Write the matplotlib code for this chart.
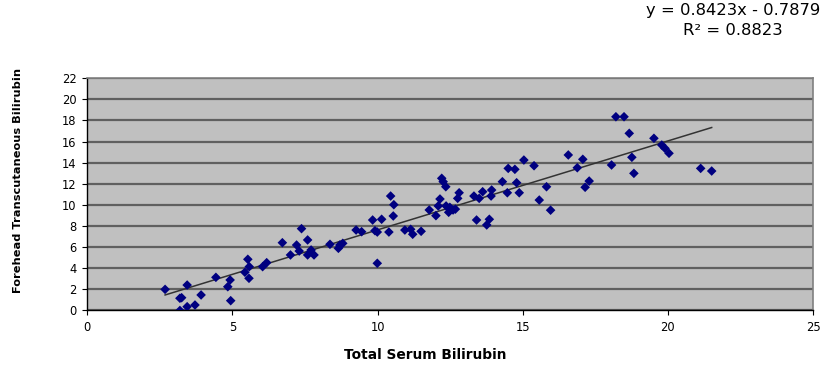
import matplotlib
matplotlib.use("Agg")
import matplotlib.pyplot as plt
import numpy as np

plt.rcParams['font.family'] = ['DejaVu Sans']

total_serum = [2.68, 3.19, 3.25, 3.19, 3.44, 3.44, 3.71, 3.92, 4.43, 4.92, 4.84, 4.94,
               5.43, 5.53, 5.58, 5.57, 6.04, 6.18, 6.72, 7.0, 7.21, 7.3, 7.38, 7.59,
               7.59, 7.71, 7.81, 8.36, 8.65, 8.7, 8.8, 9.26, 9.45, 9.83, 9.91, 9.99,
               10.14, 9.99, 10.39, 10.45, 10.56, 10.54, 10.94, 11.14, 11.21, 11.5, 11.78, 12.01,
               12.09, 12.15, 12.21, 12.26, 12.35, 12.36, 12.45, 12.49, 12.6, 12.68, 12.76, 12.81,
               13.32, 13.5, 13.41, 13.85, 13.76, 13.62, 13.93, 13.91, 14.3, 14.47, 14.5, 14.73,
               14.79, 14.88, 15.04, 15.39, 15.57, 15.82, 15.96, 16.57, 16.88, 17.07, 17.15, 17.29,
               18.06, 18.21, 18.49, 18.67, 18.76, 18.83, 19.52, 19.79, 19.9, 20.04, 21.13, 21.51]
forehead_tcb = [2.0, 1.16, 1.21, 0.0, 2.41, 0.36, 0.52, 1.47, 3.14, 2.89, 2.25, 0.93,
                3.62, 4.85, 4.15, 3.05, 4.15, 4.53, 6.42, 5.26, 6.2, 5.63, 7.75, 6.68,
                5.26, 5.73, 5.26, 6.27, 5.89, 6.2, 6.36, 7.62, 7.46, 8.57, 7.56, 7.43,
                8.64, 4.47, 7.43, 10.84, 10.02, 8.95, 7.62, 7.69, 7.22, 7.5, 9.52, 8.98,
                9.9, 10.56, 12.52, 12.2, 11.72, 9.9, 9.3, 9.77, 9.52, 9.6, 10.62, 11.15,
                10.84, 10.62, 8.57, 8.64, 8.1, 11.25, 11.41, 10.84, 12.2, 11.15, 13.46, 13.37,
                12.1, 11.15, 14.25, 13.71, 10.46, 11.72, 9.5, 14.73, 13.52, 14.32, 11.67, 12.26,
                13.78, 18.35, 18.35, 16.78, 14.51, 12.99, 16.31, 15.67, 15.36, 14.89, 13.46, 13.21]

slope = 0.8423
intercept = -0.7879
r_squared = 0.8823

x_ticks = [0, 5, 10, 15, 20, 25]
y_ticks = [0, 2, 4, 6, 8, 10, 12, 14, 16, 18, 20, 22]

fig = plt.figure(figsize=(8.29, 3.73), dpi=100)
ax = fig.add_axes([0.1053, 0.1676, 0.8754, 0.6227])
ax.set_facecolor('#C0C0C0')

ax.set_xlim(0, 25)
ax.set_ylim(0, 22)
ax.set_xticks(x_ticks)
ax.set_yticks(y_ticks)
ax.yaxis.grid(True, color='#606060', linewidth=1.6)
ax.set_axisbelow(True)

x = np.array(total_serum)
xs = np.array([x.min(), x.max()])
ax.plot(xs, slope * xs + intercept, color='#333333', linewidth=1.1, zorder=2)
ax.scatter(total_serum, forehead_tcb, marker='D', s=24, color='#000080',
           edgecolors='none', zorder=3)

for side in ['top', 'right']:
    ax.spines[side].set_color('#808080')
    ax.spines[side].set_linewidth(1.2)
for side in ['left', 'bottom']:
    ax.spines[side].set_color('#000000')
    ax.spines[side].set_linewidth(1.0)

ax.tick_params(axis='both', direction='out', length=3.8, width=0.8, labelsize=8.3,
               colors='black')
ax.tick_params(axis='y', pad=4)
ax.tick_params(axis='x', pad=3.5)

ax.set_xlabel('Total Serum Bilirubin', fontsize=9.9, fontweight='bold')
ax.set_ylabel('Forehead Transcutaneous Bilirubin', fontsize=8.2, fontweight='bold')
ax.xaxis.set_label_coords(0.466, -0.163)
ax.yaxis.set_label_coords(-0.088, 0.562)

sign = '-' if intercept < 0 else '+'
fig.text(0.884, 0.972, f'y = {slope:.4f}x {sign} {abs(intercept):.4f}', fontsize=11.8,
         ha='center', va='center')
fig.text(0.884, 0.918, f'R\u00b2 = {r_squared:.4f}', fontsize=11.8, ha='center', va='center')

fig.savefig('out.png', dpi=100)
